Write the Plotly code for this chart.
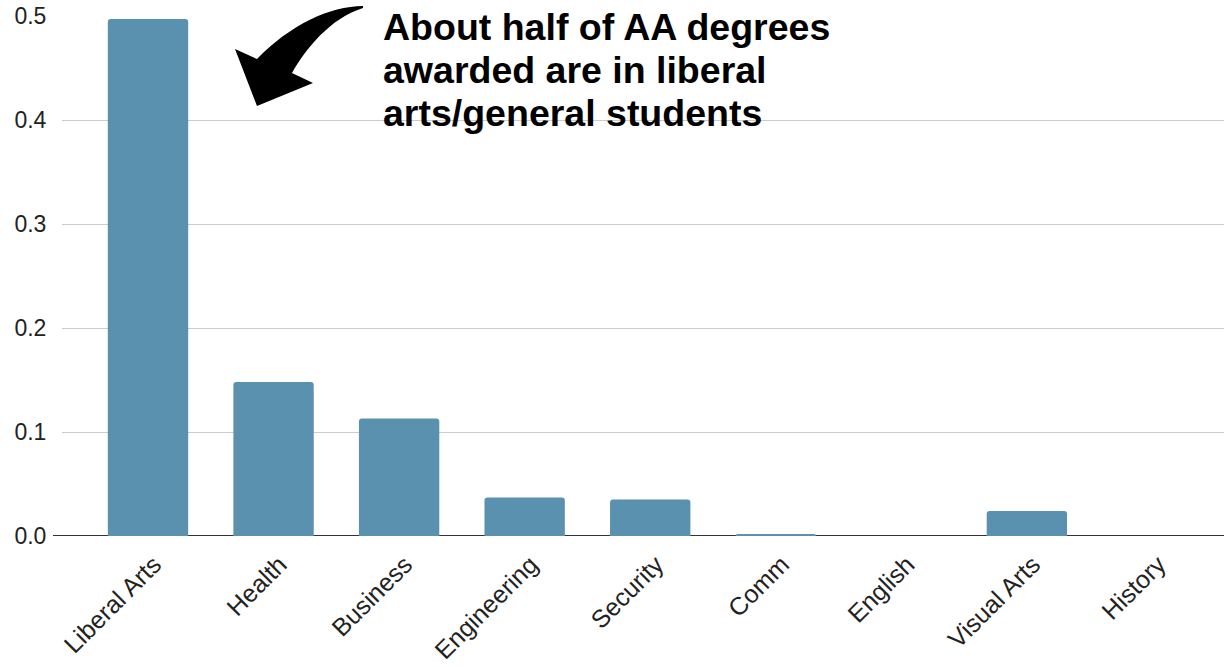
import plotly.graph_objects as go

categories = ["Liberal Arts", "Health", "Business", "Engineering", "Security",
              "Comm", "English", "Visual Arts", "History"]
shares = [0.497, 0.148, 0.113, 0.037, 0.035, 0.002, 0.0, 0.024, 0.0]
y_ticks = [0.0, 0.1, 0.2, 0.3, 0.4, 0.5]
note_lines = ["About half of AA degrees", "awarded are in liberal", "arts/general students"]

W, H = 1224, 667
L, R, T, B = 62, 0, 16, 131
pw, ph = W - L - R, H - T - B


def px(x):
    return (x - L) / pw


def py(y):
    return (H - B - y) / ph


fig = go.Figure()
fig.add_trace(go.Bar(
    x=categories, y=shares,
    marker=dict(color="#5a91af", line=dict(width=0)),
    width=0.64,
))

# curved arrow (pixel outline converted to paper coordinates)
pts = {
    "t0": (363, 6), "c1": (330, 6), "c2": (290, 25), "hb": (257, 59),
    "lb": (235, 49), "tip": (257, 106), "rb": (313, 83), "ib": (292, 73),
    "c3": (305, 50), "c4": (330, 18), "t1": (363, 8),
}
P = {k: f"{px(v[0]):.5f},{py(v[1]):.5f}" for k, v in pts.items()}
path = (f"M {P['t0']} C {P['c1']} {P['c2']} {P['hb']} L {P['lb']} L {P['tip']} "
        f"L {P['rb']} L {P['ib']} C {P['c3']} {P['c4']} {P['t1']} Z")

fig.update_layout(
    width=W, height=H,
    margin=dict(l=L, r=R, t=T, b=B, pad=0, autoexpand=False),
    paper_bgcolor="white", plot_bgcolor="white",
    font=dict(family="Liberation Sans, Arial, sans-serif", color="#222222", size=20),
    showlegend=False,
    barcornerradius=3,
    xaxis=dict(
        range=[-0.685, 8.57],
        tickangle=-45,
        tickfont=dict(size=25, color="#222222"),
        showgrid=False, showline=False, zeroline=False,
        ticks="",
        ticklabelstandoff=8,
        ticklabelshift=6,
        automargin=False,
    ),
    yaxis=dict(
        range=[0, 0.5],
        tickvals=y_ticks,
        tickformat=".1f",
        tickfont=dict(size=23, color="#222222"),
        showgrid=True, gridcolor="#cccccc", gridwidth=1,
        zeroline=False, showline=False,
        ticks="outside", ticklen=10, tickcolor="rgba(0,0,0,0)",
        automargin=False,
    ),
    shapes=[
        dict(type="line", xref="paper", yref="y", x0=px(53), x1=1, y0=0, y1=0,
             line=dict(color="#333333", width=2), layer="below"),
        dict(type="path", xref="paper", yref="paper", path=path,
             fillcolor="black", line=dict(width=0), layer="above"),
    ],
)

for i, line in enumerate(note_lines):
    fig.add_annotation(
        text=f"<b>{line}</b>", xref="paper", yref="paper",
        x=px(383), y=py(42 + 43 * i), xanchor="left", yanchor="bottom",
        showarrow=False, xshift=-2, yshift=-8,
        font=dict(size=37.5, color="black", family="Liberation Sans, Arial, sans-serif"),
    )

fig.write_html("out.html")
